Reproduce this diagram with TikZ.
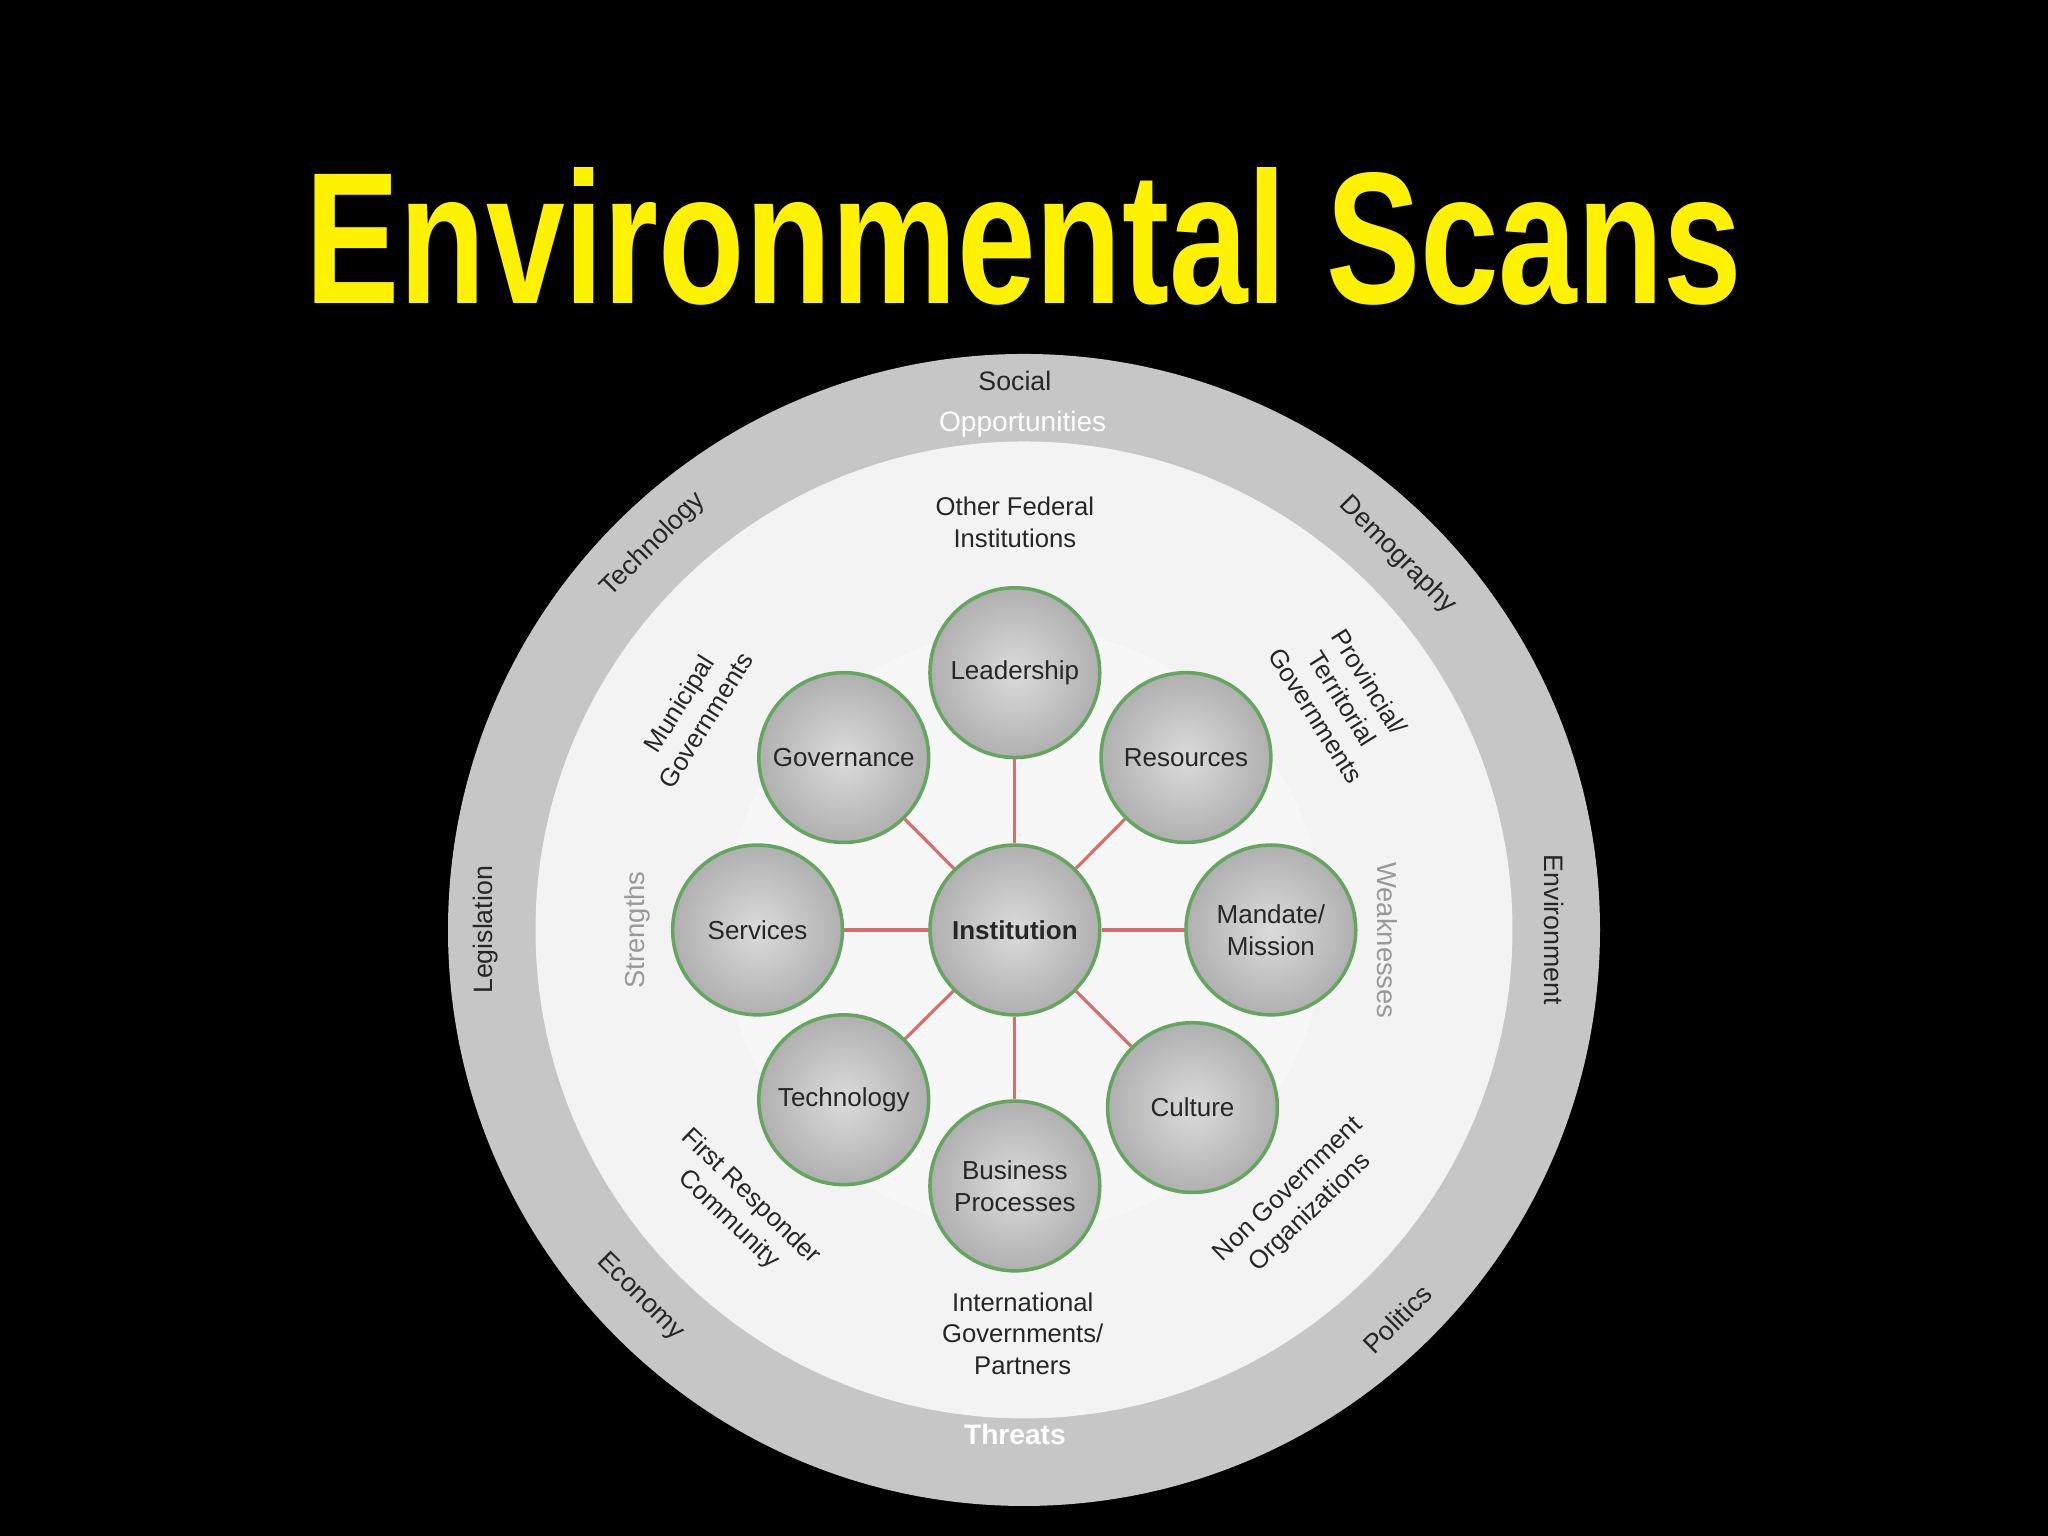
\documentclass[tikz,border=0pt]{standalone}
\usepackage{fontspec}
\setmainfont{Liberation Sans}
\usetikzlibrary{shadings}
\definecolor{ringgray}{RGB}{198,198,198}
\definecolor{innerw}{RGB}{243,243,243}
\definecolor{nodeg}{RGB}{200,200,200}
\definecolor{edgegreen}{RGB}{100,165,95}
\definecolor{linkred}{RGB}{214,110,110}
\tikzset{
 comp/.style={circle,minimum size=130*0.013061cm,draw=edgegreen,line width=1pt,inner color=nodeg!65!white,outer color=nodeg!88!black,font=\fontsize{7.4}{9}\selectfont,align=center,text=black!85},
 link/.style={draw=linkred,line width=0.9pt},
 ringlbl/.style={font=\fontsize{7.6}{9}\selectfont,text=black!85},
 stake/.style={font=\fontsize{7.3}{9}\selectfont,align=center,text=black!85},
 swot/.style={font=\fontsize{7.8}{9}\selectfont,text=black!40},
}
\begin{document}
\begin{tikzpicture}[x=0.013061cm,y=-0.013061cm]
\fill[black] (0,0) rectangle (1568,1176);
\useasboundingbox (0,0) rectangle (1568,1176);
\node[anchor=base,text=yellow,inner sep=0] (title) at (784,232)
 {\resizebox{14.37cm}{1.36cm}{\bfseries Environmental Scans}};
\coordinate (c) at (784,712);
\fill[ringgray] (c) circle (441);
\fill[innerw] (c) circle (374);
\fill[white!97!black] (c) circle (230);
% components
\node[comp] (inst) at (777,712) {\bfseries Institution};
\node[comp] (lead) at (777,515) {Leadership};
\node[comp] (res) at (908,580) {Resources};
\node[comp] (mand) at (973,712) {Mandate/\\Mission};
\node[comp] (cult) at (913,848) {Culture};
\node[comp] (bus) at (777,908) {Business\\Processes};
\node[comp] (tech) at (646,842) {Technology};
\node[comp] (serv) at (580,712) {Services};
\node[comp] (gov) at (646,580) {Governance};
\foreach \n in {lead,res,mand,cult,bus,tech,serv,gov}{\draw[link] (inst) -- (\n);}
% ring labels
\node[ringlbl] (l1) at (777,292) {Social};
\node[ringlbl,rotate=-45] (l2) at (1070,425) {Demography};
\node[ringlbl,rotate=-90] (l3) at (1190,712) {Environment};
\node[ringlbl,rotate=45] (l4) at (1070,1010) {Politics};
\node[ringlbl,rotate=-45] (l5) at (490,993) {Economy};
\node[ringlbl,rotate=90] (l6) at (372,712) {Legislation};
\node[ringlbl,rotate=45] (l7) at (500,417) {Technology};
\node[font=\fontsize{8}{9}\selectfont\bfseries,text=white] (thr) at (777,1098) {Threats};
\node[font=\fontsize{8}{9}\selectfont,text=white] (opp) at (783,325) {Opportunities};
\node[swot,rotate=90] (str) at (488,712) {Strengths};
\node[swot,rotate=-90] (wk) at (1062,720) {Weaknesses};
% stakeholders
\node[stake] (s1) at (777,400) {Other Federal\\Institutions};
\node[stake,rotate=-58] (s2) at (1028,535) {Provincial/\\Territorial\\Governments};
\node[stake,rotate=58] (s3) at (530,545) {Municipal\\Governments};
\node[stake] (s4) at (783,1021) {International\\Governments/\\Partners};
\node[stake,rotate=-44] (s5) at (566,925) {First Responder\\Community};
\node[stake,rotate=44] (s6) at (995,920) {Non Government\\Organizations};
\end{tikzpicture}
\end{document}
